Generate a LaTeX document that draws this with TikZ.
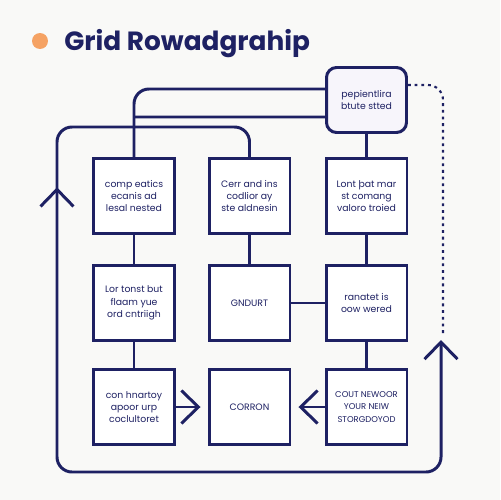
\documentclass[tikz,border=0pt]{standalone}
\usepackage{fontspec}
\setmainfont{Poppins}
\usetikzlibrary{arrows.meta, decorations.markings}
\definecolor{navy}{HTML}{1E2163}
\definecolor{peach}{HTML}{F5A263}
\definecolor{lilac}{HTML}{F7F5FB}
\definecolor{paper}{HTML}{F9F9F7}

\begin{document}
\begin{tikzpicture}[x=0.02cm, y=-0.02cm, >={Straight Barb[length=0.34cm, width=0.66cm]},
  box/.style={draw=navy, line width=1.7pt, fill=white, minimum width=1.62cm, minimum height=1.5cm,
    inner sep=1pt, align=center, text=navy, font=\fontsize{5.3}{7}\selectfont},
  link/.style={draw=navy, line width=1.7pt}]

\fill[paper] (0,0) rectangle (500,500);

% title
\fill[peach] (40,41) circle (0.16cm);
\node[anchor=base west, inner sep=0, text=navy, font=\fontsize{15}{16}\bfseries\selectfont] (title) at (64,51) {Grid Rowadgrahip};

% grid
\node[box] (A) at (134,196) {comp eatics\\ecanis ad\\lesal nested};
\node[box] (B) at (249.5,196) {Cerr and ins\\codlior ay\\ste aldnesin};
\node[box] (C) at (366.5,196) {Lont þat mar\\st comang\\valoro troied};
\node[box] (D) at (134,303) {Lor tonst but\\flaam yue\\ord cntriigh};
\node[box] (E) at (249.5,303) {GNDURT};
\node[box] (F) at (366.5,303) {ranatet is\\oow wered};
\node[box] (G) at (134,407) {con hnartoy\\apoor urp\\coclultoret};
\node[box] (H) at (249.5,407) {CORRON};
\node[box, font=\fontsize{4.8}{7}\selectfont] (I) at (366.5,407) {COUT NEWOOR\\YOUR NEIW\\STORGDOYOD};
\node[box, fill=lilac, rounded corners=0.2cm, minimum width=1.6cm, minimum height=1.3cm] (T) at (366.5,100) {pepientlira\\btute stted};

\draw[link] (A) -- (D);
\draw[link] (D) -- (G);
\draw[link] (B) -- (E);
\draw[link] (E) -- (F);
\draw[link] (T) -- (C);
\draw[link] (C) -- (F);
\draw[link] (F) -- (I);
\draw[link, ->, shorten >=0.14cm] (G) -- (H);
\draw[link, ->, shorten >=0.14cm] (I) -- (H);

% top feeds
\draw[link, rounded corners=0.3cm] (A.north) |- ([yshift=0.22cm]T.west);
\draw[link] ([yshift=-0.34cm]T.west) -- (A.north |- 0,117);

% outer loop
\draw[link, ->, rounded corners=0.3cm, postaction={decorate},
  decoration={markings, mark=at position 5.4cm with {\arrowreversed{>}}}]
  (B.north) |- (57,127) -- (57,472) -| (441,340);

\draw[navy, line width=1.2pt, dash pattern=on 1.6pt off 2.2pt, rounded corners=0.3cm]
  ([yshift=0.3cm]T.east) -| (443,336);

\end{tikzpicture}
\end{document}
